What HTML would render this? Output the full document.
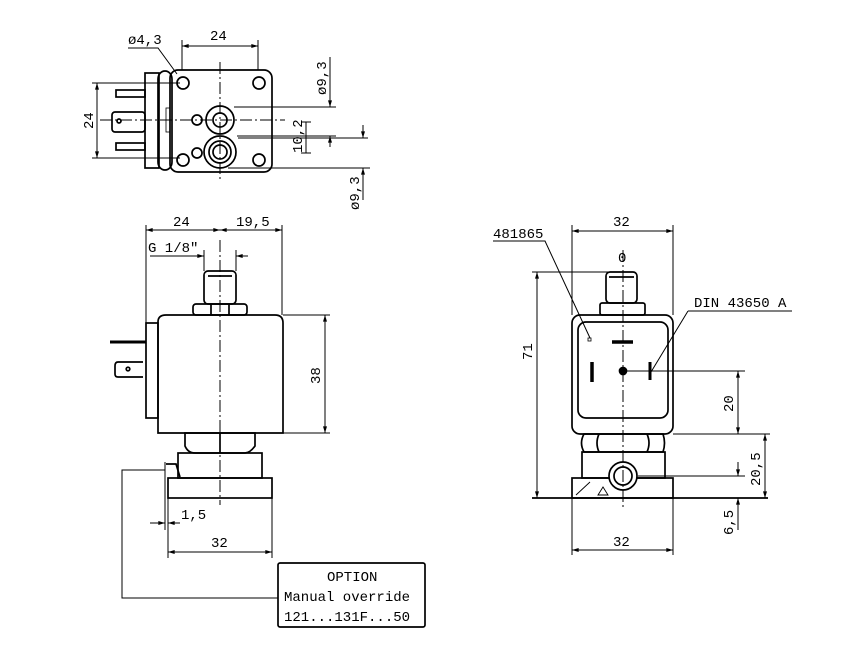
<!DOCTYPE html>
<html><head><meta charset="utf-8"><style>
html,body{margin:0;padding:0;background:#fff;}
svg{display:block;}
text{font-family:"Liberation Mono","DejaVu Sans Mono",monospace;font-size:14px;fill:#000;}
</style></head><body>
<svg width="845" height="647" viewBox="0 0 845 647" xmlns="http://www.w3.org/2000/svg">
<defs>
<marker id="a" viewBox="0 0 10 6" refX="10" refY="3" markerWidth="8" markerHeight="4" orient="auto-start-reverse" markerUnits="userSpaceOnUse"><path d="M0,0 L10,3 L0,6 z" fill="#000"/></marker>
</defs>
<g fill="none" stroke="#000" stroke-width="1.7">
<!-- TOP VIEW -->
<rect x="145" y="73" width="14" height="95"/>
<rect x="158" y="71" width="14" height="99" rx="8"/>
<rect x="170" y="70" width="102" height="102" rx="8"/>
<rect x="112" y="112" width="33" height="20" rx="3"/>
<circle cx="119" cy="121" r="2"/>
<rect x="116" y="90" width="29" height="7"/>
<rect x="116" y="143" width="29" height="7"/>
<rect x="166" y="108" width="4" height="24" stroke-width="0.8"/>
<circle cx="183" cy="83" r="6"/><circle cx="259" cy="83" r="6"/>
<circle cx="183" cy="160" r="6"/><circle cx="259" cy="160" r="6"/>
<circle cx="220" cy="120" r="14"/><circle cx="220" cy="120" r="7"/>
<circle cx="220" cy="152" r="16"/><circle cx="220" cy="152" r="11"/><circle cx="220" cy="152" r="7"/>
<circle cx="197" cy="120" r="5"/><circle cx="197" cy="153" r="5"/>
<g stroke-width="1">
<path d="M220 62V182" stroke-dasharray="12 3 2 3"/>
<path d="M100 120H285" stroke-dasharray="12 3 2 3"/>
<path d="M182 40V70M258 40V70"/>
<path d="M182 46H258" marker-start="url(#a)" marker-end="url(#a)"/>
<path d="M128 48H158L177 74"/>
<path d="M92 83H180M92 158H180"/>
<path d="M97 83V158" marker-start="url(#a)" marker-end="url(#a)"/>
<path d="M234 107H336M237 136H336M238 138H368M228 168H370"/>
<path d="M330 57V107" marker-end="url(#a)"/><path d="M330 147V136" marker-end="url(#a)"/>
<path d="M306 122V153M301 122H311M301 153H311"/>
<path d="M363 125V138" marker-end="url(#a)"/><path d="M363 200V168" marker-end="url(#a)"/>
</g>
<!-- SIDE VIEW -->
<rect x="204" y="271" width="32" height="33" rx="4"/>
<path d="M208 276H232"/>
<rect x="193" y="304" width="54" height="11" rx="3"/>
<path d="M211 304V315M229 304V315"/>
<path d="M158 433V322Q158 315 166 315H275Q283 315 283 323V433Z"/>
<rect x="146" y="323" width="12" height="95"/>
<path d="M110 342H146" stroke-width="3"/>
<path d="M143 362H118Q115 362 115 366V374Q115 377 118 377H143"/>
<circle cx="128" cy="369" r="1.8"/>
<path d="M185 433H255V446Q250 453 245 453H195Q188 453 185 446Z"/>
<path d="M220 433V453"/>
<rect x="178" y="453" width="84" height="25"/>
<rect x="168" y="478" width="104" height="20"/>
<path d="M166 464H176L180 477"/>
<g stroke-width="1">
<path d="M220 240V505" stroke-dasharray="12 3 2 3"/>
<path d="M146 225V323M282 225V315"/>
<path d="M146 230H220" marker-start="url(#a)" marker-end="url(#a)"/>
<path d="M220 230H282" marker-start="url(#a)" marker-end="url(#a)"/>
<path d="M150 256H204" marker-end="url(#a)"/><path d="M248 256H236" marker-end="url(#a)"/>
<path d="M204 250V271M236 250V271"/>
<path d="M283 315H330M283 433H330"/>
<path d="M325 315V433" marker-start="url(#a)" marker-end="url(#a)"/>
<path d="M165 462V530M168 498V558M272 498V558"/>
<path d="M150 523H165" marker-end="url(#a)"/><path d="M180 523H168" marker-end="url(#a)"/>
<path d="M168 552H272" marker-start="url(#a)" marker-end="url(#a)"/>
<path d="M165 470H122V598H278"/>
</g>
<rect x="278" y="563" width="147" height="64" rx="2"/>
<!-- FRONT VIEW -->
<rect x="606" y="272" width="31" height="31" rx="4"/>
<path d="M609 277H634"/>
<rect x="600" y="303" width="45" height="12" rx="2"/>
<rect x="572" y="315" width="101" height="119" rx="8"/>
<rect x="578" y="322" width="90" height="96" rx="8"/>
<path d="M612 342H633" stroke-width="3.5"/>
<path d="M592 362V382" stroke-width="3.5"/>
<path d="M650 362V380" stroke-width="3"/>
<circle cx="623" cy="371" r="3.5" fill="#000"/>
<rect x="588" y="338" width="3" height="3" stroke-width="0.8"/>
<path d="M584 434H663Q666 443 663 452H584Q579 443 584 434Z"/>
<path d="M599 434Q595 443 599 452M647 434Q651 443 647 452"/>
<rect x="582" y="452" width="83" height="26"/>
<rect x="572" y="478" width="101" height="20"/>
<circle cx="623" cy="476" r="14" fill="#fff"/><circle cx="623" cy="476" r="9"/>
<path d="M576 495L590 482M598 495L603 487L608 495Z" stroke-width="0.9"/>
<path d="M532 498H768"/>
<g stroke-width="1">
<path d="M623 250V507" stroke-dasharray="12 3 2 3"/>
<path d="M572 225V315M673 225V315"/>
<path d="M572 231H673" marker-start="url(#a)" marker-end="url(#a)"/>
<path d="M493 241H545L590 338"/>
<path d="M688 311H792M688 311L651 372"/>
<path d="M532 272H615"/>
<path d="M537 272V498" marker-start="url(#a)" marker-end="url(#a)"/>
<path d="M623 371H745M673 434H770M638 476H745"/>
<path d="M738 371V434" marker-start="url(#a)" marker-end="url(#a)"/>
<path d="M765 434V498" marker-start="url(#a)" marker-end="url(#a)"/>
<path d="M738 462V476" marker-end="url(#a)"/><path d="M738 530V498" marker-end="url(#a)"/>
<path d="M572 498V555M673 498V555"/>
<path d="M572 550H673" marker-start="url(#a)" marker-end="url(#a)"/>
</g>
</g>
<!-- TEXT -->
<text x="128" y="44">ø4,3</text>
<text x="210" y="40">24</text>
<text transform="translate(93,129) rotate(-90)">24</text>
<text transform="translate(326,95) rotate(-90)">ø9,3</text>
<text transform="translate(302,153) rotate(-90)">10,2</text>
<text transform="translate(359,210) rotate(-90)">ø9,3</text>
<text x="173" y="226">24</text>
<text x="236" y="226">19,5</text>
<text x="148" y="252">G 1/8"</text>
<text transform="translate(320,384) rotate(-90)">38</text>
<text x="181" y="519">1,5</text>
<text x="211" y="547">32</text>
<text x="327" y="581">OPTION</text>
<text x="284" y="601">Manual override</text>
<text x="284" y="621">121...131F...50</text>
<text x="613" y="226">32</text>
<text x="493" y="238">481865</text>
<text x="618" y="262">0</text>
<text x="694" y="307">DIN 43650 A</text>
<text transform="translate(532,360) rotate(-90)">71</text>
<text transform="translate(733,412) rotate(-90)">20</text>
<text transform="translate(760,486) rotate(-90)">20,5</text>
<text transform="translate(733,535) rotate(-90)">6,5</text>
<text x="613" y="546">32</text>
</svg>
</body></html>
